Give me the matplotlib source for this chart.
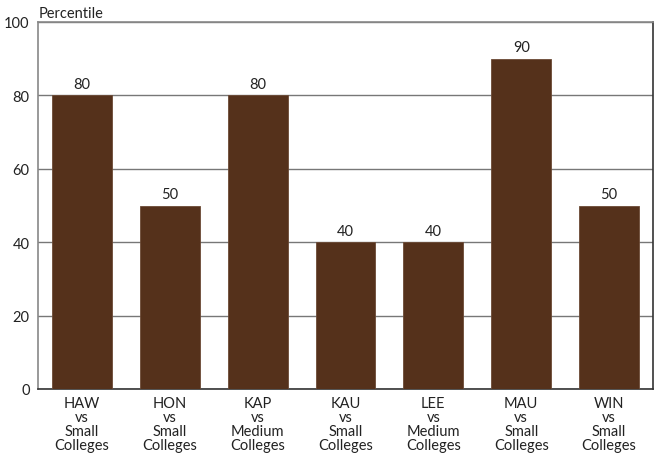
import matplotlib
matplotlib.use("Agg")
import matplotlib.pyplot as plt

categories = ["HAW\nvs\nSmall\nColleges", "HON\nvs\nSmall\nColleges", "KAP\nvs\nMedium\nColleges",
              "KAU\nvs\nSmall\nColleges", "LEE\nvs\nMedium\nColleges", "MAU\nvs\nSmall\nColleges",
              "WIN\nvs\nSmall\nColleges"]
values = [80, 50, 80, 40, 40, 90, 50]
yticks = [0, 20, 40, 60, 80, 100]

plt.rcParams['font.family'] = ['Lato', 'DejaVu Sans']
FS = 10.5

fig = plt.figure(figsize=(6.6, 4.56), dpi=100)
ax = fig.add_axes([38/660, 66/456, 615/660, 367/456])

x = list(range(len(categories)))
ax.bar(x, values, width=0.68, color="#55311b", edgecolor="#6b4a35", linewidth=0.6, zorder=3)
for xi, v in zip(x, values):
    ax.text(xi, v + 1.2, str(v), ha="center", va="bottom", fontsize=FS, color="#222222")

ax.set_xlim(-0.5, len(categories) - 0.5)
ax.set_ylim(0, 100)
ax.set_yticks(yticks)
ax.set_yticklabels([str(t) for t in yticks], fontsize=FS, color="#222222")
ax.set_xticks(x)
ax.set_xticklabels(categories, fontsize=FS, color="#222222", linespacing=1.0)
ax.tick_params(axis="x", length=0, pad=5)
ax.tick_params(axis="y", length=0, pad=6)
ax.grid(axis="y", color="#777777", linewidth=1.0, zorder=0)
ax.set_axisbelow(True)
for s in ["left", "top"]:
    ax.spines[s].set_color("#888888")
    ax.spines[s].set_linewidth(1.2)
for s in ["right", "bottom"]:
    ax.spines[s].set_color("#333333")
    ax.spines[s].set_linewidth(1.2)

fig.text(39/660, 1 - 14/456, "Percentile", fontsize=FS, ha="left", va="center", color="#222222")

fig.savefig("out.png", dpi=100)
